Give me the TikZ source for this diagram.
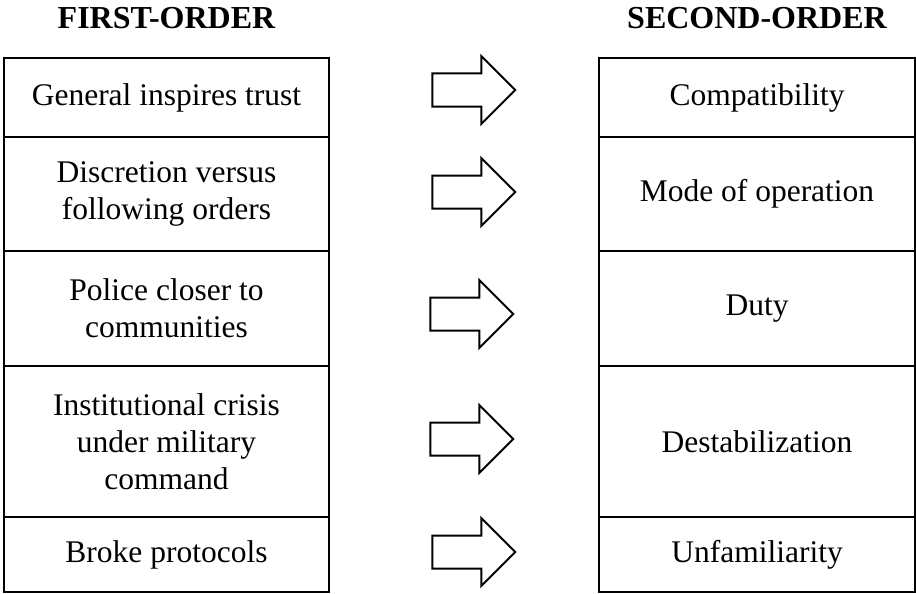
\documentclass[tikz,border=0pt]{standalone}
\usepackage{fontspec}
\setmainfont{Liberation Serif}
\usetikzlibrary{shapes.arrows}
\begin{document}
\begin{tikzpicture}[x=1pt,y=-1pt,
  cell/.style={draw,line width=1.6pt,rectangle,inner sep=0pt,align=center,
     font=\fontsize{31.5}{37}\selectfont},
  lcell/.style={cell,minimum width=325pt},
  rcell/.style={cell,minimum width=316pt},
  head/.style={font=\fontsize{32}{38}\selectfont\bfseries,anchor=base,inner sep=0pt},
  blockarrow/.style={draw,line width=2pt,single arrow,shape border rotate=0,
     single arrow head extend=17.5pt,single arrow head indent=0pt,
     inner xsep=0pt,inner ysep=15.5pt,minimum height=83pt}]
\useasboundingbox (0,0) rectangle (916,594);
\node[head] (h1) at (166.5,29) {FIRST-ORDER};
\node[head] (h2) at (757,29) {SECOND-ORDER};
% left column
\node[lcell,minimum height=79pt] (l1) at (166.5,97.5) {General inspires trust};
\node[lcell,minimum height=114pt] (l2) at (166.5,194) {Discretion versus\\following orders};
\node[lcell,minimum height=115pt] (l3) at (166.5,308.5) {Police closer to\\communities};
\node[lcell,minimum height=151pt] (l4) at (166.5,441.5) {Institutional crisis\\under military\\command};
\node[lcell,minimum height=75pt] (l5) at (166.5,554.5) {Broke protocols};
% right column
\node[rcell,minimum height=79pt] (r1) at (757,97.5) {Compatibility};
\node[rcell,minimum height=114pt] (r2) at (757,194) {Mode of operation};
\node[rcell,minimum height=115pt] (r3) at (757,308.5) {Duty};
\node[rcell,minimum height=151pt] (r4) at (757,441.5) {Destabilization};
\node[rcell,minimum height=75pt] (r5) at (757,554.5) {Unfamiliarity};
% arrows
\node[blockarrow] (a1) at (465.5,90) {};
\node[blockarrow] (a2) at (465.5,192) {};
\node[blockarrow] (a3) at (463.5,314) {};
\node[blockarrow] (a4) at (463.5,439) {};
\node[blockarrow] (a5) at (465.5,552) {};
\end{tikzpicture}
\end{document}
